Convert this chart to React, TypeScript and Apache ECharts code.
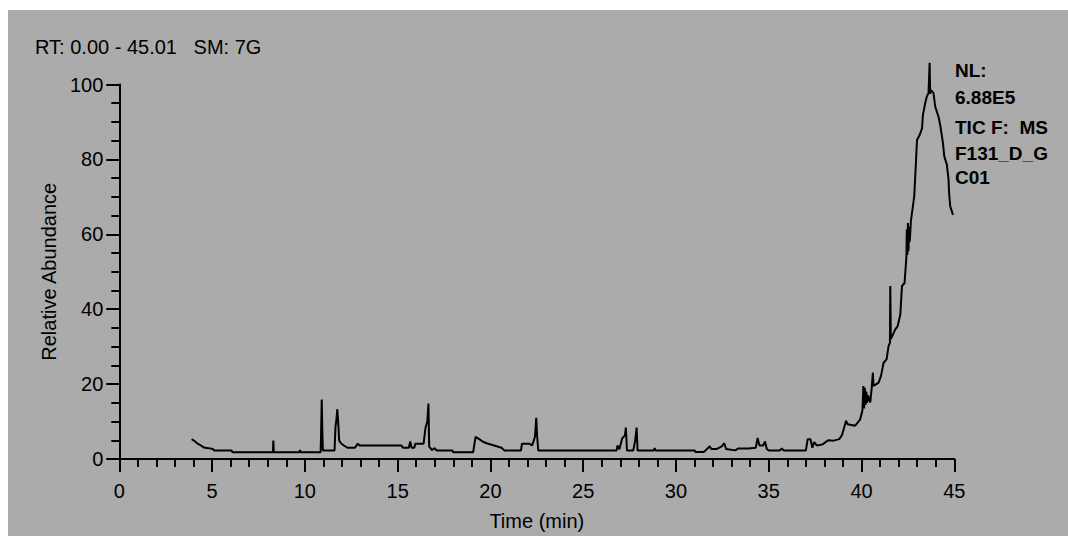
import React, { useEffect, useRef } from "react";
import * as echarts from "echarts";

const FONT = "'Liberation Sans', Arial, sans-serif";

const titleText = "RT: 0.00 - 45.01   SM: 7G";
const infoLines = ["NL:", "6.88E5", "TIC F:  MS", "F131_D_G", "C01"];
const xTicks = [0, 5, 10, 15, 20, 25, 30, 35, 40, 45];
const yTicks = [0, 20, 40, 60, 80, 100];

const earlyTimes = [
  3.9, 4.05, 4.2, 4.4, 4.55, 4.8, 5.05, 5.1, 6.05, 6.1, 8.28, 8.3, 8.33, 9.7, 9.74, 9.78,
  10.85, 10.88, 10.91, 10.94, 10.97, 11.6, 11.65, 11.7, 11.75, 11.8, 11.85, 11.95, 12.1, 12.3,
  12.7, 12.85, 12.95, 15.2, 15.3, 15.6, 15.68, 15.75, 15.9, 15.95, 16.4, 16.5, 16.6, 16.66,
  16.7, 16.85, 17.0, 17.1, 17.95, 18.0, 19.07, 19.2, 19.4, 19.6, 19.8, 20.2, 20.6, 20.75,
  21.65, 21.7, 22.1, 22.25, 22.4, 22.47, 22.52, 22.58,
];
const earlyAbundance = [
  5.3, 4.8, 4.2, 3.6, 3.1, 2.9, 2.65, 2.3, 2.3, 1.8, 1.8, 4.9, 1.8, 1.8, 2.4, 1.8,
  1.8, 8.0, 15.9, 8.0, 2.3, 2.3, 8.5, 10.5, 13.3, 9.5, 4.9, 4.2, 3.6, 3.0,
  3.0, 4.1, 3.6, 3.6, 3.0, 3.0, 4.7, 3.0, 3.0, 4.1, 4.1, 8.3, 10.0, 14.8,
  3.3, 2.4, 2.9, 2.3, 2.3, 1.8, 1.8, 5.9, 5.3, 4.6, 4.2, 3.6, 3.0, 2.3,
  2.3, 4.1, 4.1, 3.6, 5.9, 11.0, 5.9, 2.3,
];

const middleTimes = [
  26.8, 26.85, 26.95, 27.1, 27.25, 27.3, 27.36, 27.7, 27.8, 27.88, 27.93, 28.8, 28.85, 28.9,
  31.0, 31.05, 31.5, 31.6, 31.82, 31.9, 32.2, 32.45, 32.6, 32.7, 33.2, 33.35, 33.9, 34.3,
  34.4, 34.5, 34.7, 34.8, 34.9, 35.0, 35.6, 35.7, 35.8, 37.0, 37.1, 37.25, 37.35, 37.45,
  37.6, 37.9,
];
const middleAbundance = [
  2.3, 3.6, 2.6, 5.5, 6.3, 8.4, 2.3, 2.3, 4.9, 8.4, 2.3, 2.3, 2.9, 2.3,
  2.3, 1.9, 1.9, 2.3, 3.4, 2.7, 2.7, 3.3, 4.2, 2.7, 2.3, 2.8, 2.8, 3.0,
  5.6, 3.6, 3.6, 4.7, 2.6, 2.3, 2.3, 2.8, 2.3, 2.3, 5.3, 5.3, 3.0, 4.5,
  3.6, 3.9,
];

const lateTimes = [
  38.2, 38.5, 38.8, 38.95, 39.1, 39.17, 39.25, 39.66, 39.93, 40.05, 40.1, 40.14, 40.18, 40.22,
  40.26, 40.3, 40.35, 40.47, 40.55, 40.61, 40.65, 40.92, 41.05, 41.19, 41.35, 41.46, 41.53, 41.55,
  41.58, 41.82, 41.95, 42.09, 42.18, 42.32, 42.42, 42.44, 42.47, 42.5, 42.53, 42.57, 42.6, 42.66,
  42.84, 42.9, 42.99, 43.13, 43.26, 43.31, 43.43, 43.52, 43.61, 43.67, 43.7, 43.74, 43.88, 43.97,
  44.15, 44.24, 44.39, 44.46, 44.6, 44.69, 44.72, 44.78, 44.93,
];
const lateAbundance = [
  5.0, 4.9, 5.3, 6.4, 9.0, 10.2, 9.3, 8.9, 10.6, 13.0, 19.5, 13.5, 19.0, 14.5,
  18.0, 15.0, 17.0, 15.1, 19.0, 23.1, 19.5, 20.4, 22.2, 25.7, 26.6, 30.2, 31.0, 46.2,
  32.0, 34.6, 35.5, 38.6, 46.2, 47.0, 54.1, 61.3, 54.5, 63.0, 55.5, 62.0, 58.0, 63.5,
  70.1, 75.9, 85.2, 86.5, 88.3, 91.9, 95.0, 96.8, 97.7, 105.8, 97.5, 98.5, 97.7, 94.1,
  91.4, 89.2, 84.3, 80.8, 78.6, 74.6, 71.0, 67.5, 65.2,
];

const allTimes = [...earlyTimes, ...middleTimes, ...lateTimes];
const allAbundance = [...earlyAbundance, ...middleAbundance, ...lateAbundance];

export default function App() {
  const ref = useRef<HTMLDivElement>(null);
  useEffect(() => {
    document.body.style.margin = "0";
    if (!ref.current) return;
    const chart = echarts.init(ref.current, null, { renderer: "svg" });
    const data = allTimes.map((t, i) => [t, allAbundance[i]]);
    const axisColor = "#000";
    chart.setOption({
      animation: false,
      backgroundColor: "#ababab",
      textStyle: { fontFamily: FONT, color: "#000" },
      grid: { left: 111.3, top: 74.5, width: 835, height: 375.5 },
      xAxis: {
        type: "value",
        min: xTicks[0],
        max: xTicks[xTicks.length - 1],
        interval: 5,
        axisLine: { show: true, onZero: false, lineStyle: { color: axisColor, width: 2 } },
        axisTick: { show: true, length: 13, lineStyle: { color: axisColor, width: 2 } },
        minorTick: { show: true, splitNumber: 5, length: 8, lineStyle: { color: axisColor, width: 2 } },
        splitLine: { show: false },
        axisLabel: { color: "#000", fontSize: 20, margin: 22, fontFamily: FONT },
        name: "Time (min)",
        nameLocation: "middle",
        nameGap: 52,
        nameTextStyle: { color: "#000", fontSize: 20, fontFamily: FONT },
      },
      yAxis: {
        type: "value",
        min: yTicks[0],
        max: yTicks[yTicks.length - 1],
        interval: 20,
        axisLine: { show: true, onZero: false, lineStyle: { color: axisColor, width: 2 } },
        axisTick: { show: true, length: 13, lineStyle: { color: axisColor, width: 2 } },
        minorTick: { show: true, splitNumber: 4, length: 8, lineStyle: { color: axisColor, width: 2 } },
        splitLine: { show: false },
        axisLabel: { color: "#000", fontSize: 20, margin: 16, fontFamily: FONT },
        name: "Relative Abundance",
        nameLocation: "middle",
        nameRotate: 90,
        nameGap: 58,
        nameTextStyle: { color: "#000", fontSize: 20, fontFamily: FONT },
      },
      series: [
        {
          type: "line",
          data,
          symbol: "none",
          showSymbol: false,
          clip: false,
          lineStyle: { color: "#000", width: 2 },
        },
      ],
      graphic: [
        {
          type: "text",
          x: 27,
          y: 37,
          style: {
            text: titleText,
            fill: "#000",
            fontSize: 20,
            fontFamily: FONT,
            verticalAlign: "middle",
          },
        },
        ...infoLines.map((line, i) => ({
          type: "text",
          x: 947,
          y: [60, 87, 117, 143, 167][i],
          style: {
            text: line,
            fill: "#000",
            fontSize: 19,
            fontWeight: "bold",
            fontFamily: FONT,
            verticalAlign: "middle",
          },
        })),
      ],
    });
    return () => chart.dispose();
  }, []);
  return (
    <div style={{ width: 1068, height: 536, background: "#fff", position: "relative", overflow: "hidden" }}>
      <div ref={ref} style={{ position: "absolute", left: 8, top: 10, width: 1060, height: 526 }} />
    </div>
  );
}
